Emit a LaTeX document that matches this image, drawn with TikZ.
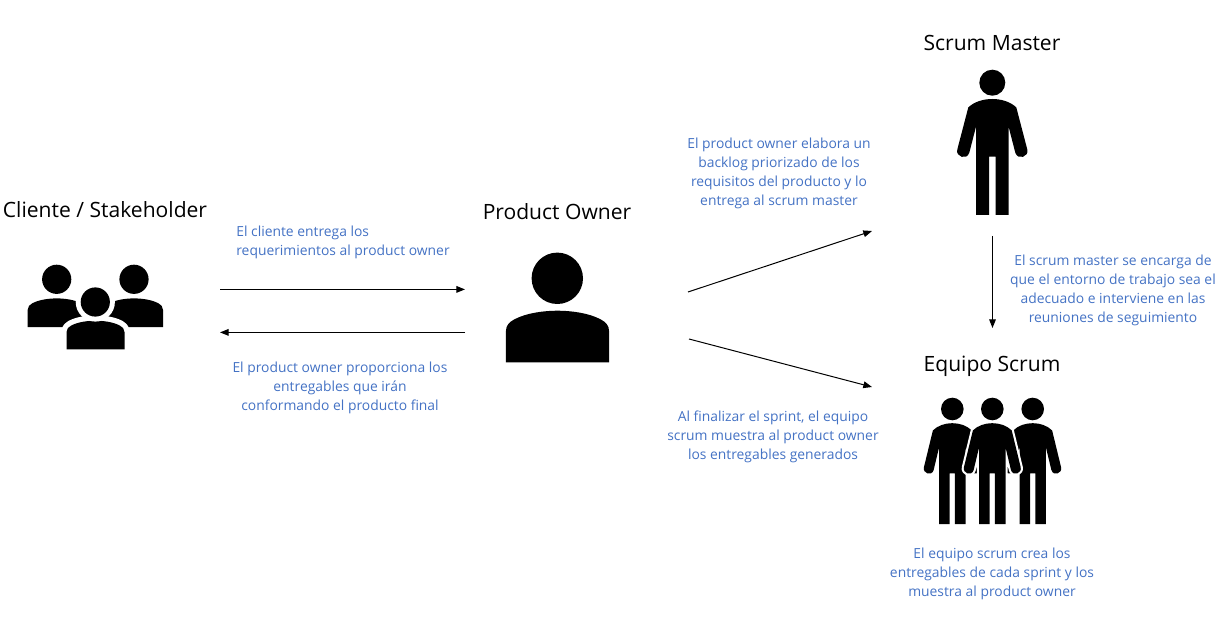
\documentclass[tikz,border=0pt]{standalone}
\usepackage{fontspec}
\setmainfont{Open Sans}
\usetikzlibrary{arrows.meta}
\definecolor{noteblue}{HTML}{4472C4}
\newcommand{\manpath}{
  (0,16.3) .. controls (-9,16.3) and (-18,19) .. (-24,24.7) -- (-35,66.8)
  .. controls (-37,74) and (-25.5,78) .. (-23,70) -- (-16.3,44) -- (-16.3,132.3) -- (-3.3,132.3) -- (-3.3,74)
  -- (3.3,74) -- (3.3,132.3) -- (16.3,132.3) -- (16.3,44) -- (23,70)
  .. controls (25.5,78) and (37,74) .. (35,66.8) -- (24,24.7) .. controls (18,19) and (9,16.3) .. (0,16.3) -- cycle
}
\newcommand{\bustpath}{
  (-1,1) -- (-1,.4) .. controls (-1,.28) and (-.93,.22) .. (-.84,.17)
  .. controls (-.6,.04) and (-.25,0) .. (0,0) .. controls (.25,0) and (.6,.04) .. (.84,.17)
  .. controls (.93,.22) and (1,.28) .. (1,.4) -- (1,1) -- cycle
}
\tikzset{
  x=.75pt, y=-.75pt,
  title/.style={font=\fontsize{15.8pt}{19pt}\selectfont, text=black, inner sep=0pt, anchor=center},
  note/.style={font=\fontsize{10.4pt}{14.25pt}\selectfont, text=noteblue, inner sep=0pt, anchor=center, align=center},
  link/.style={line width=.75pt, -{Triangle[length=6.5pt,width=5pt]}},
  man/.pic={\fill[black] \manpath;},
  manhalo/.pic={\draw[white,line width=3.2pt,line join=round] \manpath; \fill[black] \manpath;},
  bust/.pic={\fill[black] \bustpath;},
}
\begin{document}
\begin{tikzpicture}
\useasboundingbox (0,0) rectangle (1225,627);

% Titles
\node[title] (tcliente) at (105,210) {Cliente / Stakeholder};
\node[title] (tpo) at (557,212) {Product Owner};
\node[title] (tsm) at (992,43) {Scrum Master};
\node[title] (teq) at (992,366.5) {Equipo Scrum};

% Cliente group
\pic[xscale=29,yscale=28.7] at (56.7,298.4) {bust};
\pic[xscale=29,yscale=28.7] at (134,298.4) {bust};
\fill[black] (56.7,279.3) circle[radius=14.6];
\fill[black] (134,279.3) circle[radius=14.6];
\begin{scope}[shift={(95.5,320.7)},xscale=29,yscale=28.7]
  \draw[white,line width=8pt,line join=round] \bustpath;
  \fill[black] \bustpath;
\end{scope}
\fill[white] (95.3,302) circle[radius=19.6];
\fill[black] (95.3,302) circle[radius=14.6];

% Product owner
\fill[black] (557.3,278.3) circle[radius=25.7];
\pic[xscale=51.6,yscale=51.6] at (557.5,310.7) {bust};

% Scrum master
\fill[black] (992.3,82.7) circle[radius=13];
\pic at (992.3,82.7) {man};

% Equipo
\pic[xscale=.81,yscale=.87] at (952.3,409) {man};
\pic[xscale=.81,yscale=.87] at (1032.7,409) {man};
\pic[xscale=.81,yscale=.87] at (992.3,409) {manhalo};
\fill[black] (952.3,409) circle[radius=11.3];
\fill[black] (992.3,409) circle[radius=11.3];
\fill[black] (1032.7,409) circle[radius=11.3];

% Notes
\node[note,align=left] (n1) at (343,242.2) {El cliente entrega los\\requerimientos al product owner};
\node[note] (n2) at (340,388) {El product owner proporciona los\\entregables que irán\\conformando el producto final};
\node[note] (n3) at (779,173) {El product owner elabora un\\backlog priorizado de los\\requisitos del producto y lo\\entrega al scrum master};
\node[note] (n4) at (1113,290) {El scrum master se encarga de\\que el entorno de trabajo sea el\\adecuado e interviene en las\\reuniones de seguimiento};
\node[note] (n5) at (773,437) {Al finalizar el sprint, el equipo\\scrum muestra al product owner\\los entregables generados};
\node[note] (n6) at (992,573.5) {El equipo scrum crea los\\entregables de cada sprint y los\\muestra al product owner};

% Connectors
\coordinate (cr) at (220,289.4);
\coordinate (pl) at (465,289.4);
\coordinate (pl2) at (465,332.4);
\coordinate (cr2) at (220,332.4);
\coordinate (pa) at (688,292);
\coordinate (sa) at (872,231);
\coordinate (pb) at (689,339);
\coordinate (eb) at (872,387);
\coordinate (sd) at (992.5,236);
\coordinate (eu) at (992.5,328);
\draw[link] (cr) -- (pl);
\draw[link] (pl2) -- (cr2);
\draw[link] (pa) -- (sa);
\draw[link] (pb) -- (eb);
\draw[link] (sd) -- (eu);
\end{tikzpicture}
\end{document}
